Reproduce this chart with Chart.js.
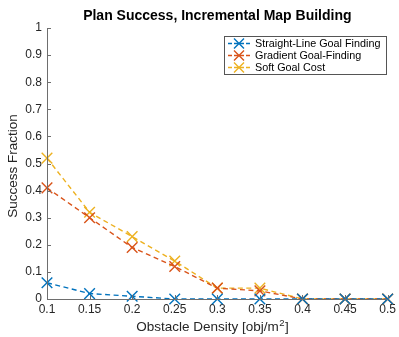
<!DOCTYPE html>
<html>
<head>
<meta charset="utf-8">
<script src="https://cdn.jsdelivr.net/npm/chart.js@4.4.1/dist/chart.umd.min.js"></script>
<style>
  html, body { margin: 0; padding: 0; background: #fff; }
  #wrap { width: 399px; height: 337px; }
</style>
</head>
<body>
<div id="wrap"><canvas id="c" width="399" height="337"></canvas></div>
<script>
// Obstacle density values (obj/m^2)
const densities = [0.1, 0.15, 0.2, 0.25, 0.3, 0.35, 0.4, 0.45, 0.5];

// Success fraction for each planner
const straightLine = [0.06, 0.02, 0.01, 0, 0, 0, 0, 0, 0];
const gradient     = [0.41, 0.30, 0.19, 0.12, 0.04, 0.03, 0, 0, 0];
const softGoal     = [0.52, 0.32, 0.23, 0.14, 0.04, 0.04, 0, 0, 0];

const seriesNames = ['Straight-Line Goal Finding', 'Gradient Goal-Finding', 'Soft Goal Cost'];
const seriesColors = ['#0072BD', '#D95319', '#EDB120'];

const FONT = '"Liberation Sans", Arial, Helvetica, sans-serif';
const AXIS_COLOR = '#6e6e6e';
const TEXT_COLOR = '#262626';

function toPoints(vals) {
  return vals.map((v, i) => ({ x: densities[i], y: v }));
}

function makeDataset(label, vals, color) {
  return {
    label,
    data: toPoints(vals),
    borderColor: color,
    backgroundColor: color,
    borderWidth: 1.4,
    borderDash: [5, 3.5],
    pointStyle: 'crossRot',
    pointRadius: 7.5,
    pointBorderWidth: 1.4,
    pointHoverRadius: 7.5,
    tension: 0,
    fill: false
  };
}

// Title, axis titles, inward ticks and the boxed legend
const decorations = {
  id: 'decorations',
  afterDraw(chart) {
    const ctx = chart.ctx;
    const area = chart.chartArea;
    const xs = chart.scales.x, ys = chart.scales.y;
    ctx.save();

    // axis lines
    ctx.strokeStyle = AXIS_COLOR;
    ctx.lineWidth = 1;
    ctx.beginPath();
    ctx.moveTo(area.left + 0.5, area.top);
    ctx.lineTo(area.left + 0.5, area.bottom + 0.5);
    ctx.lineTo(area.right, area.bottom + 0.5);
    ctx.stroke();

    // inward tick marks
    ctx.beginPath();
    xs.ticks.forEach(t => {
      const px = Math.round(xs.getPixelForValue(t.value)) + 0.5;
      ctx.moveTo(px, area.bottom);
      ctx.lineTo(px, area.bottom - 4);
    });
    ys.ticks.forEach(t => {
      const py = Math.round(ys.getPixelForValue(t.value)) + 0.5;
      ctx.moveTo(area.left, py);
      ctx.lineTo(area.left + 4, py);
    });
    ctx.stroke();

    // chart title
    ctx.fillStyle = '#000';
    ctx.font = 'bold 14px ' + FONT;
    ctx.textAlign = 'center';
    ctx.textBaseline = 'middle';
    ctx.fillText('Plan Success, Incremental Map Building', (area.left + area.right) / 2, 16);

    // x axis title with superscript
    ctx.fillStyle = TEXT_COLOR;
    ctx.textBaseline = 'alphabetic';
    ctx.textAlign = 'left';
    const mainFont = '13.5px ' + FONT;
    const supFont = '9.5px ' + FONT;
    const part1 = 'Obstacle Density [obj/m';
    const part2 = '2';
    const part3 = ']';
    ctx.font = mainFont;
    const w1 = ctx.measureText(part1).width;
    const w3 = ctx.measureText(part3).width;
    ctx.font = supFont;
    const w2 = ctx.measureText(part2).width;
    let tx = 212 - (w1 + w2 + w3) / 2;
    const base = 331;
    ctx.font = mainFont;
    ctx.fillText(part1, tx, base);
    ctx.font = supFont;
    ctx.fillText(part2, tx + w1 + 0.5, base - 5.5);
    ctx.font = mainFont;
    ctx.fillText(part3, tx + w1 + w2 + 1, base);

    // y axis title
    ctx.save();
    ctx.translate(13, 166);
    ctx.rotate(-Math.PI / 2);
    ctx.font = mainFont;
    ctx.textAlign = 'center';
    ctx.textBaseline = 'middle';
    ctx.fillText('Success Fraction', 0, 0);
    ctx.restore();

    // legend box
    const lx = 224, ly = 36, lw = 162, lh = 38;
    ctx.fillStyle = '#fff';
    ctx.fillRect(lx, ly, lw, lh);
    ctx.strokeStyle = '#555';
    ctx.lineWidth = 1;
    ctx.strokeRect(lx + 0.5, ly + 0.5, lw, lh);
    chart.data.datasets.forEach((ds, i) => {
      const cy = ly + 7.5 + i * 12;
      ctx.strokeStyle = ds.borderColor;
      ctx.lineWidth = 1.4;
      ctx.setLineDash([4, 2]);
      ctx.beginPath();
      ctx.moveTo(lx + 4, cy);
      ctx.lineTo(lx + 26, cy);
      ctx.stroke();
      ctx.setLineDash([]);
      ctx.beginPath();
      ctx.moveTo(lx + 15 - 5, cy - 5);
      ctx.lineTo(lx + 15 + 5, cy + 5);
      ctx.moveTo(lx + 15 + 5, cy - 5);
      ctx.lineTo(lx + 15 - 5, cy + 5);
      ctx.stroke();
      ctx.fillStyle = '#000';
      ctx.font = '10.8px ' + FONT;
      ctx.textAlign = 'left';
      ctx.textBaseline = 'middle';
      ctx.fillText(ds.label, lx + 31, cy + 0.5);
    });
    ctx.restore();
  }
};

new Chart(document.getElementById('c'), {
  type: 'line',
  data: {
    datasets: [
      makeDataset(seriesNames[0], straightLine, seriesColors[0]),
      makeDataset(seriesNames[1], gradient, seriesColors[1]),
      makeDataset(seriesNames[2], softGoal, seriesColors[2])
    ]
  },
  plugins: [decorations],
  options: {
    responsive: false,
    animation: false,
    clip: false,
    layout: { padding: { left: 0, right: 7, top: 28, bottom: 0 } },
    plugins: {
      legend: { display: false },
      title: { display: false },
      tooltip: { enabled: false }
    },
    scales: {
      x: {
        type: 'linear',
        min: 0.1,
        max: 0.5,
        afterFit(scale) { scale.height = 38; },
        afterBuildTicks(scale) {
          scale.ticks = densities.map(v => ({ value: v }));
        },
        ticks: {
          color: TEXT_COLOR,
          font: { family: FONT, size: 12 },
          padding: 3,
          maxRotation: 0,
          autoSkip: false,
          callback: v => String(Math.round(v * 100) / 100)
        },
        grid: { display: false, drawTicks: false },
        border: { display: false }
      },
      y: {
        type: 'linear',
        min: 0,
        max: 1,
        afterFit(scale) { scale.width = 47; },
        ticks: {
          stepSize: 0.1,
          color: TEXT_COLOR,
          font: { family: FONT, size: 12 },
          padding: 5,
          callback: v => String(Math.round(v * 10) / 10)
        },
        grid: { display: false, drawTicks: false },
        border: { display: false }
      }
    }
  }
});
</script>
</body>
</html>
